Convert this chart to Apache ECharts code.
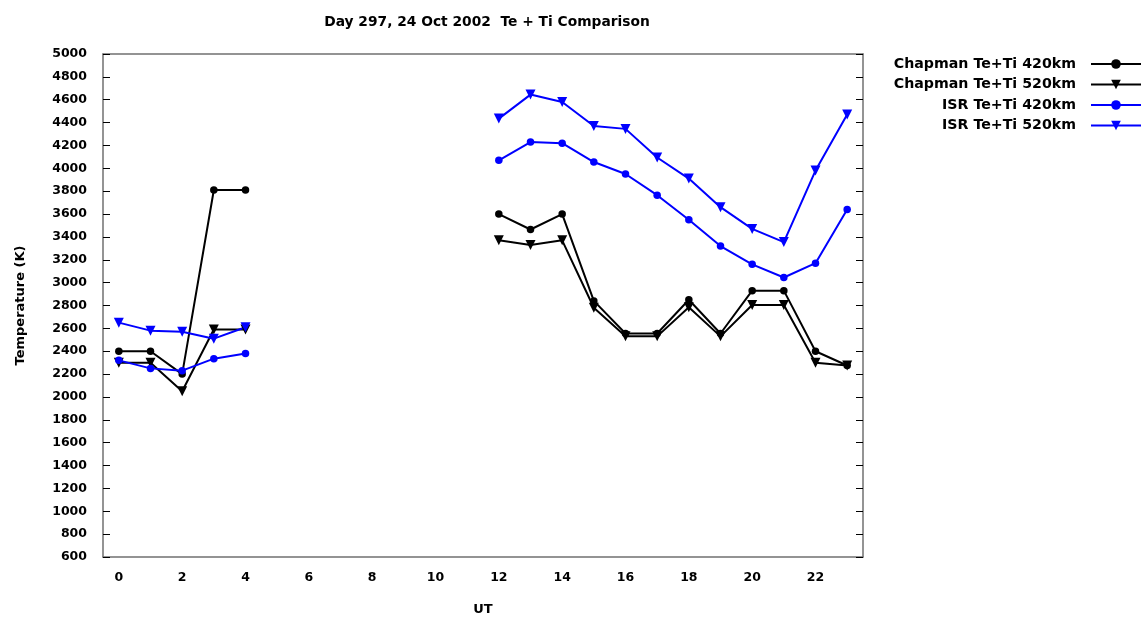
<!DOCTYPE html>
<html>
<head>
<meta charset="utf-8">
<script src="https://cdn.jsdelivr.net/npm/echarts@6/dist/echarts.min.js"></script>
<style>
  html, body { margin: 0; padding: 0; background: #fff; }
  #chart { width: 1146px; height: 621px; }
</style>
</head>
<body>
<div id="chart"></div>
<script>
// UT hours 0..23 (category axis, gaps are null)
var hours = ['0','1','2','3','4','5','6','7','8','9','10','11','12','13','14','15','16','17','18','19','20','21','22','23'];

var chapman420 = [2400, 2400, 2200, 3810, 3810, null, null, null, null, null, null, null,
                  3600, 3465, 3600, 2840, 2555, 2555, 2850, 2555, 2930, 2930, 2400, 2275];
var chapman520 = [2300, 2300, 2050, 2590, 2590, null, null, null, null, null, null, null,
                  3370, 3330, 3370, 2780, 2530, 2530, 2785, 2530, 2805, 2805, 2300, 2275];
var isr420 = [2320, 2250, 2230, 2335, 2380, null, null, null, null, null, null, null,
              4070, 4230, 4220, 4055, 3950, 3765, 3550, 3320, 3160, 3045, 3170, 3640];
var isr520 = [2650, 2580, 2570, 2510, 2610, null, null, null, null, null, null, null,
              4435, 4645, 4580, 4370, 4345, 4095, 3910, 3660, 3470, 3355, 3980, 4470];

var fontFam = 'DejaVu Sans, Verdana, sans-serif';
var frameColor = '#707070';

var myChart = echarts.init(document.getElementById('chart'));

function makeSeries(name, data, color, tri) {
    return {
        name: name,
        type: 'line',
        data: data,
        xAxisIndex: 0,
        yAxisIndex: 0,
        connectNulls: false,
        symbol: tri ? 'triangle' : 'circle',
        symbolRotate: tri ? 180 : 0,
        symbolSize: tri ? 10 : 7.5,
        lineStyle: { color: color, width: 2 },
        itemStyle: { color: color },
        emphasis: { disabled: true },
        animation: false
    };
}

var option = {
    backgroundColor: '#fff',
    title: {
        text: 'Day 297, 24 Oct 2002  Te + Ti Comparison',
        left: 482,
        textAlign: 'center',
        top: 10,
        textStyle: { fontFamily: fontFam, fontSize: 13.8, fontWeight: 'bold', color: '#000' }
    },
    legend: {
        orient: 'vertical',
        right: 4,
        top: 56,
        padding: 0,
        align: 'right',
        itemWidth: 50,
        itemHeight: 12,
        itemGap: 4.5,
        textStyle: { fontFamily: fontFam, fontSize: 14.2, fontWeight: 'bold', color: '#000',
                     lineHeight: 16, padding: [0, 10, 0, 0] },
        data: ['Chapman Te+Ti 420km', 'Chapman Te+Ti 520km', 'ISR Te+Ti 420km', 'ISR Te+Ti 520km']
    },
    grid: { left: 103, right: 283, top: 54, bottom: 60 },
    xAxis: [{
        type: 'category',
        data: hours,
        boundaryGap: true,
        name: 'UT',
        nameLocation: 'middle',
        nameGap: 46,
        nameTextStyle: { fontFamily: fontFam, fontSize: 13, fontWeight: 'bold', color: '#000' },
        axisLine: { lineStyle: { color: frameColor, width: 1.5 } },
        axisTick: { inside: true, length: 7, alignWithLabel: true, interval: 1, lineStyle: { color: '#000' } },
        axisLabel: { interval: 1, margin: 14, fontFamily: fontFam, fontSize: 12.5, fontWeight: 'bold', color: '#000' },
        splitLine: { show: false }
    }, {
        type: 'category',
        data: hours,
        position: 'top',
        boundaryGap: true,
        axisLine: { lineStyle: { color: frameColor, width: 1.5 } },
        axisTick: { inside: true, length: 7, alignWithLabel: true, interval: 1, lineStyle: { color: '#000' } },
        axisLabel: { show: false },
        splitLine: { show: false }
    }],
    yAxis: [{
        type: 'value',
        min: 600,
        max: 5000,
        interval: 200,
        name: 'Temperature (K)',
        nameLocation: 'middle',
        nameGap: 76,
        nameTextStyle: { fontFamily: fontFam, fontSize: 13, fontWeight: 'bold', color: '#000' },
        axisLine: { show: true, lineStyle: { color: frameColor, width: 1.5 } },
        axisTick: { show: true, inside: true, length: 7, lineStyle: { color: '#000' } },
        axisLabel: { margin: 16, fontFamily: fontFam, fontSize: 12.5, fontWeight: 'bold', color: '#000',
                     formatter: function (v) { return String(v); } },
        splitLine: { show: false }
    }, {
        type: 'value',
        min: 600,
        max: 5000,
        interval: 200,
        position: 'right',
        axisLine: { show: true, lineStyle: { color: frameColor, width: 1.5 } },
        axisTick: { show: true, inside: true, length: 7, lineStyle: { color: '#000' } },
        axisLabel: { show: false },
        splitLine: { show: false }
    }],
    series: [
        makeSeries('Chapman Te+Ti 420km', chapman420, '#000000', false),
        makeSeries('Chapman Te+Ti 520km', chapman520, '#000000', true),
        makeSeries('ISR Te+Ti 420km', isr420, '#0000ff', false),
        makeSeries('ISR Te+Ti 520km', isr520, '#0000ff', true)
    ]
};

myChart.setOption(option);
</script>
</body>
</html>
